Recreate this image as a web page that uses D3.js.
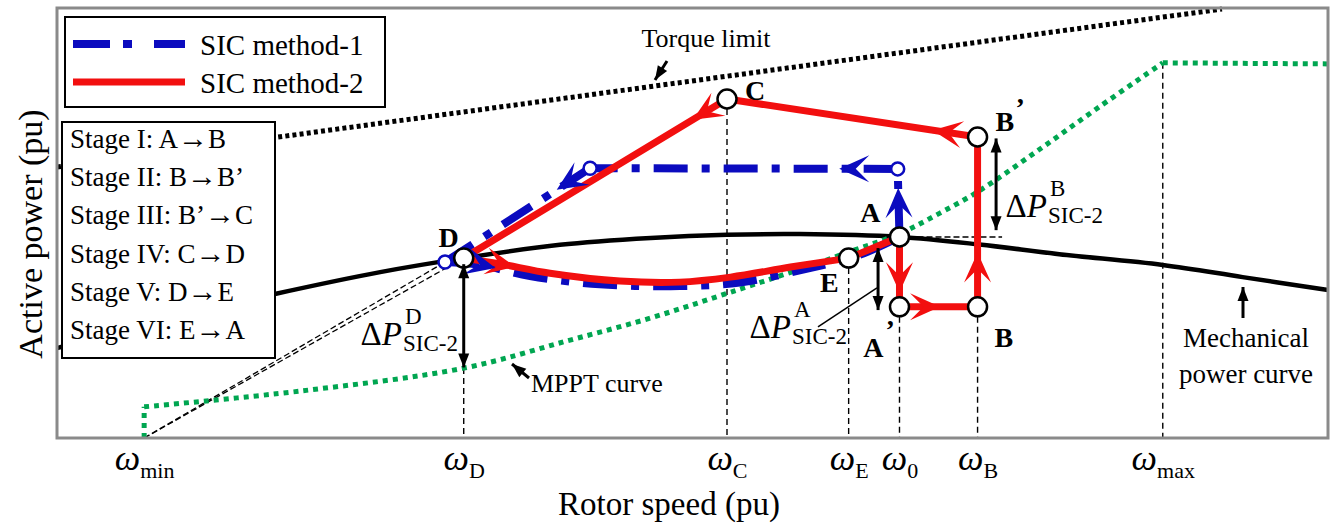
<!DOCTYPE html>
<html>
<head>
<meta charset="utf-8">
<script src="https://cdn.jsdelivr.net/npm/d3@7"></script>
<style>
  body { margin: 0; background: #fff; }
  svg { display: block; font-family: 'Liberation Serif', 'Times New Roman', serif; }
</style>
</head>
<body>
<div id="chart"></div>
<script>
// rotor speed marks on the x axis (pu)
const speedTickNames = ['min', 'D', 'C', 'E', '0', 'B', 'max'];
const speedTickValues = [0.648, 0.824, 0.969, 1.036, 1.064, 1.107, 1.209];
// power where each dashed drop line starts
const dropPower = [0, 0.502, 0.946, 0.502, 0.366, 0.366, 1.047];

// curves [speed, power]
const mechCurve = [[0.6, 0.251], [0.651, 0.321], [0.72, 0.402], [0.778, 0.463], [0.824, 0.502],
  [0.877, 0.539], [0.927, 0.558], [0.969, 0.567], [1.009, 0.569], [1.064, 0.561], [1.108, 0.54],
  [1.152, 0.513], [1.209, 0.483], [1.253, 0.449], [1.3, 0.413]];
const mpptStart = [[0.648, 0], [0.648, 0.087]];
const mpptCurve = [[0.648, 0.087], [0.734, 0.131], [0.824, 0.195], [0.881, 0.271], [0.927, 0.335],
  [0.971, 0.407], [1.019, 0.488], [1.036, 0.519], [1.064, 0.57], [1.086, 0.627], [1.108, 0.69],
  [1.141, 0.805], [1.174, 0.924], [1.209, 1.047]];
const mpptFlat = [[1.209, 1.047], [1.3, 1.044]];
const torqueLimit = [[0.6, 0.756], [1.2416, 1.197]];

// operating points
const opNames = ['A', "A'", 'B', "B'", 'C', 'D', 'E'];
const opSpeed = [1.064, 1.064, 1.107, 1.107, 0.969, 0.824, 1.036];
const opPower = [0.561, 0.366, 0.366, 0.84, 0.946, 0.502, 0.502];

// SIC method-2 (red) : D -> E part
const redDE = [[0.824, 0.502], [0.844, 0.486], [0.8715, 0.46], [0.91, 0.438], [0.943, 0.435],
  [0.971, 0.449], [1.004, 0.477], [1.036, 0.502]];

// SIC method-1 (blue)
const blueUp = [[1.064, 0.561], [1.063, 0.751]];
const blueTop = [[1.063, 0.751], [0.8936, 0.753]];
const blueDiag = [[0.8936, 0.753], [0.8137, 0.491]];
const blueBottom = [[0.8137, 0.491], [0.833, 0.483], [0.8605, 0.452], [0.899, 0.429], [0.943, 0.424],
  [0.976, 0.434], [1.009, 0.468], [1.042, 0.511], [1.064, 0.561]];
const blueMarks = [[1.063, 0.751], [0.8936, 0.753], [0.8137, 0.491]];

// legend + stage list
const legendNames = ['SIC method-1', 'SIC method-2'];
const stageNames = ['Stage I: A\u2192B', 'Stage II: B\u2192B\u2019', 'Stage III: B\u2019\u2192C',
  'Stage IV: C\u2192D', 'Stage V: D\u2192E', 'Stage VI: E\u2192A'];

const W = 1336, H = 525;
const frame = { left: 57, right: 1328, top: 8, bottom: 438 };
const RED = '#f20f0f', BLUE = '#0b0bbf', GREEN = '#00a651';

const svg = d3.select('#chart').append('svg').attr('width', W).attr('height', H);
svg.append('rect').attr('width', W).attr('height', H).style('fill', '#fff');

const x = d3.scaleLinear().domain([0.6, 1.3]).range([frame.left, frame.right]);
const y = d3.scaleLinear().domain([0, 1.2]).range([frame.bottom, frame.top]);

const line = d3.line().x(d => x(d[0])).y(d => y(d[1]));
const smooth = d3.line().x(d => x(d[0])).y(d => y(d[1])).curve(d3.curveCatmullRom);

const plot = svg.append('g');

// dashed drop lines
speedTickValues.forEach((w, i) => {
  if (dropPower[i] <= 0) return;
  plot.append('line')
    .attr('x1', x(w)).attr('x2', x(w))
    .attr('y1', y(dropPower[i])).attr('y2', y(0))
    .style('stroke', '#000').style('stroke-width', 1.4).style('stroke-dasharray', '6,4');
});

// two dashed rays from w_min
[[opSpeed[5], opPower[5]], blueMarks[2]].forEach(pt => {
  plot.append('path')
    .attr('d', line([[speedTickValues[0], 0], pt]))
    .style('stroke', '#000').style('stroke-width', 1.3).style('stroke-dasharray', '6,3').style('fill', 'none');
});

// short dashed level line at A
plot.append('path')
  .attr('d', line([[opSpeed[0], opPower[0]], [1.1205, opPower[0]]]))
  .style('stroke', '#000').style('stroke-width', 1.4).style('stroke-dasharray', '6,3');

// torque limit
plot.append('path').attr('d', line(torqueLimit))
  .style('stroke', '#000').style('stroke-width', 5).style('stroke-dasharray', '4,3.2').style('fill', 'none');

// mechanical power curve
plot.append('path').attr('d', smooth(mechCurve))
  .style('stroke', '#000').style('stroke-width', 4.5).style('fill', 'none');

// mppt curve
[line(mpptStart), smooth(mpptCurve), line(mpptFlat)].forEach(d => {
  plot.append('path').attr('d', d)
    .style('stroke', GREEN).style('stroke-width', 5).style('stroke-dasharray', '5,5').style('fill', 'none');
});

// blue method-1 path
const bluePaths = [blueUp, blueTop, blueDiag, blueBottom].map((pts, i) =>
  plot.append('path').attr('d', i === 3 ? smooth(pts) : line(pts))
    .style('stroke', BLUE).style('stroke-width', 8).style('stroke-dasharray', '34,14,8,14')
    .style('fill', 'none').node());

// red method-2 path
const pt = i => [opSpeed[i], opPower[i]];
const redSegs = [[pt(0), pt(1)], [pt(1), pt(2)], [pt(2), pt(3)], [pt(3), pt(4)], [pt(4), pt(5)], redDE, [pt(6), pt(0)]];
const redPaths = redSegs.map((pts, i) =>
  plot.append('path').attr('d', i === 5 ? smooth(pts) : line(pts))
    .style('stroke', RED).style('stroke-width', 7).style('fill', 'none').style('stroke-linecap', 'round').node());

function stealth(g, px, py, ang, color, len, wid) {
  g.append('path')
    .attr('d', 'M0,0 L' + -len + ',' + -wid / 2 + ' L' + -len * 0.55 + ',0 L' + -len + ',' + wid / 2 + ' Z')
    .attr('transform', 'translate(' + px + ',' + py + ') rotate(' + ang + ')')
    .style('fill', color);
}

function arrowOnPath(node, t, color) {
  const L = node.getTotalLength();
  const p1 = node.getPointAtLength(L * t);
  const p0 = node.getPointAtLength(Math.max(0, L * t - 2));
  const ang = Math.atan2(p1.y - p0.y, p1.x - p0.x) * 180 / Math.PI;
  stealth(plot, p1.x, p1.y, ang, color, 30, 27);
}

// arrow positions along each segment (fraction of length)
[0.79, 0.52, 0.32, 0.18, 0.13, 0.135].forEach((t, i) => arrowOnPath(redPaths[i], t, RED));
[0.72, 0.19, 0.23, 0.11].forEach((t, i) => arrowOnPath(bluePaths[i], t, BLUE));

// blue small circles
blueMarks.forEach(d => {
  plot.append('circle').attr('cx', x(d[0])).attr('cy', y(d[1])).attr('r', 6.5)
    .style('fill', '#fff').style('stroke', BLUE).style('stroke-width', 2.5);
});

// black operating point circles
opNames.forEach((n, i) => {
  plot.append('circle').attr('cx', x(opSpeed[i])).attr('cy', y(opPower[i])).attr('r', 9.5)
    .style('fill', '#fff').style('stroke', '#000').style('stroke-width', 2.5);
});

// point labels
const labelPos = {
  'A': [-19, -15, 'end'], "A'": [-16, 50, 'end'], 'B': [17, 40, 'start'],
  "B'": [18, -6, 'start'], 'C': [18, 1, 'start'], 'D': [-15, -11, 'middle'], 'E': [-10, 34, 'end']
};
opNames.forEach((n, i) => {
  const o = labelPos[n];
  const px = x(opSpeed[i]), py = y(opPower[i]);
  plot.append('text').text(n.replace("'", ''))
    .attr('x', px + o[0]).attr('y', py + o[1]).attr('text-anchor', o[2])
    .style('font-size', '28px').style('font-weight', 'bold');
  if (n.indexOf("'") > 0) {
    const pr = n === "A'" ? [-14, 32] : [38, -20];
    plot.append('text').text('\u2019').attr('x', px + pr[0]).attr('y', py + pr[1])
      .style('font-size', '28px').style('font-weight', 'bold');
  }
});

// black double arrows for power gaps
function tri(g, px, py, ang) {
  g.append('path').attr('d', 'M0,0 L-14,-5.5 L-14,5.5 Z')
    .attr('transform', 'translate(' + px + ',' + py + ') rotate(' + ang + ')').style('fill', '#000');
}
function simpleArrow(x1, y1, x2, y2, both) {
  const ang = Math.atan2(y2 - y1, x2 - x1) * 180 / Math.PI;
  plot.append('line').attr('x1', x1).attr('y1', y1).attr('x2', x2).attr('y2', y2)
    .style('stroke', '#000').style('stroke-width', 3);
  tri(plot, x2, y2, ang);
  if (both) tri(plot, x1, y1, ang + 180);
}
const gapArrows = [[0.824, 0.485, 0.197], [1.0522, 0.53, 0.357], [1.1172, 0.836, 0.58]];
gapArrows.forEach(a => simpleArrow(x(a[0]), y(a[1]), x(a[0]), y(a[2]), true));

// leader for dP A
plot.append('path').attr('d', line([[1.0191, 0.31], [1.0516, 0.419]]))
  .style('stroke', '#000').style('stroke-width', 1.5);

// delta P labels
function deltaP(xe, yb, sup) {
  const t = plot.append('text').attr('x', xe).attr('y', yb).attr('text-anchor', 'end').style('font-size', '33px');
  t.append('tspan').text('\u0394');
  t.append('tspan').text('P').style('font-style', 'italic');
  plot.append('text').text(sup).attr('x', xe + 3).attr('y', yb - 21).style('font-size', '23px');
  plot.append('text').text('SIC-2').attr('x', xe + 1).attr('y', yb + 6).style('font-size', '23px');
}
deltaP(402, 345, 'D');
deltaP(791, 338, 'A');
deltaP(1047, 217, 'B');

// curve annotations
plot.append('text').text('Torque limit').attr('x', 706).attr('y', 47).attr('text-anchor', 'middle').style('font-size', '26px');
simpleArrow(667, 61, 655, 80, false);
plot.append('text').text('MPPT curve').attr('x', 531).attr('y', 392).style('font-size', '26px');
simpleArrow(529, 378, 512, 364, false);
plot.append('text').text('Mechanical').attr('x', 1246).attr('y', 347).attr('text-anchor', 'middle').style('font-size', '27px');
plot.append('text').text('power curve').attr('x', 1246).attr('y', 383).attr('text-anchor', 'middle').style('font-size', '27px');
simpleArrow(1243, 318, 1243, 287, false);

// legend box
const leg = svg.append('g');
leg.append('rect').attr('x', 65).attr('y', 17).attr('width', 320).attr('height', 90)
  .style('fill', '#fff').style('stroke', '#000').style('stroke-width', 2);
legendNames.forEach((n, i) => {
  const ly = 44 + i * 38;
  leg.append('line').attr('x1', 73).attr('x2', 185).attr('y1', ly).attr('y2', ly)
    .style('stroke', i === 0 ? BLUE : RED).style('stroke-width', i === 0 ? 8 : 7)
    .style('stroke-dasharray', i === 0 ? '37,13,9,22' : null);
  leg.append('text').text(n).attr('x', 200).attr('y', ly + 11).style('font-size', '29px');
});

// stage box
leg.append('rect').attr('x', 62).attr('y', 122).attr('width', 213).attr('height', 236)
  .style('fill', '#fff').style('stroke', '#000').style('stroke-width', 2);
stageNames.forEach((s, i) => {
  const parts = s.split('\u2192');
  const t = leg.append('text').attr('x', 70).attr('y', 148 + i * 38.2).style('font-size', '27px');
  t.append('tspan').text(parts[0]);
  t.append('tspan').text('\u2192').style('font-size', '30px');
  t.append('tspan').text(parts[1]);
});

// frame
svg.append('rect').attr('x', frame.left).attr('y', frame.top)
  .attr('width', frame.right - frame.left).attr('height', frame.bottom - frame.top)
  .style('fill', 'none').style('stroke', '#8a8a8a').style('stroke-width', 3);

// x axis with omega labels
const xAxis = d3.axisBottom(x).tickValues(speedTickValues).tickSize(0).tickFormat(() => '');
const axisG = svg.append('g').attr('transform', 'translate(0,' + frame.bottom + ')').call(xAxis);
axisG.select('.domain').remove();
axisG.attr('font-family', null).attr('font-size', null);
axisG.selectAll('.tick text').each(function (d, i) {
  const t = d3.select(this).attr('y', 32).attr('dy', 0).style('fill', '#000');
  t.append('tspan').text('\u03c9').style('font-style', 'italic').style('font-size', '36px');
  t.append('tspan').text(speedTickNames[i]).attr('dy', 8).style('font-size', '22px');
});

// axis titles
svg.append('text').text('Rotor speed (pu)').attr('x', 669).attr('y', 515)
  .attr('text-anchor', 'middle').style('font-size', '33px');
svg.append('text').text('Active power (pu)')
  .attr('transform', 'translate(42,234) rotate(-90)')
  .attr('text-anchor', 'middle').style('font-size', '34px');
</script>
</body>
</html>
